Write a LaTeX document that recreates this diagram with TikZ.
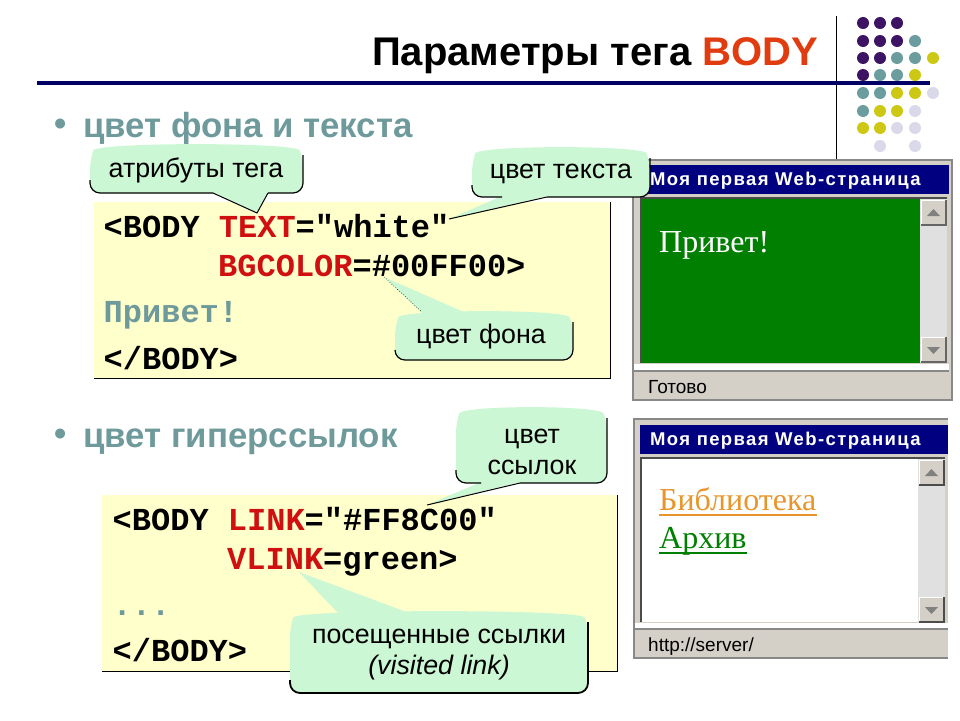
\documentclass[tikz,border=0pt]{standalone}
\usepackage{fontspec}
\setmainfont{Liberation Sans}
\newfontfamily\codefont{Liberation Mono}
\newfontfamily\pagefont{Liberation Serif}
\newfontfamily\barfont[LetterSpace=7.5]{Liberation Sans}
\definecolor{navyline}{HTML}{000066}
\definecolor{titlered}{HTML}{E03C10}
\definecolor{tealtext}{HTML}{6F9A9C}
\definecolor{codered}{HTML}{D01010}
\definecolor{notefill}{HTML}{FFFFCC}
\definecolor{tipfill}{HTML}{CCF7D4}
\definecolor{winface}{HTML}{D4D0C8}
\definecolor{winnavy}{HTML}{000080}
\definecolor{winedge}{HTML}{888888}
\definecolor{pagegreen}{HTML}{007F00}
\definecolor{linkorange}{HTML}{E8962C}
\definecolor{dotpurple}{HTML}{3D1464}
\definecolor{dotteal}{HTML}{6B9C9E}
\definecolor{dotyellow}{HTML}{CCC814}
\definecolor{dotlilac}{HTML}{D9D9EA}
\tikzset{
  headtext/.style={anchor=base west,inner sep=0,font=\bfseries\fontsize{40}{40}\selectfont},
  itemtext/.style={anchor=base west,inner sep=0,text=tealtext,font=\bfseries\fontsize{34.8}{34.8}\selectfont},
  codetext/.style={anchor=base west,inner sep=0,font=\codefont\bfseries\fontsize{32}{32}\selectfont},
  tiptext/.style={inner sep=0,align=center,font=\fontsize{26.8}{31}\selectfont},
  bartext/.style={anchor=base west,inner sep=0,text=white,font=\barfont\bfseries\fontsize{18.5}{18.5}\selectfont},
  pagetext/.style={anchor=base west,inner sep=0,font=\pagefont\fontsize{32}{32}\selectfont},
  statustext/.style={anchor=base west,inner sep=0,font=\fontsize{19}{19}\selectfont},
  tipline/.style={black,line width=1.2pt,rounded corners=10pt},
  tipbody/.style={fill=tipfill,rounded corners=10pt},
  notebox/.style={fill=notefill},
  notebar/.style={black,line width=1pt},
  framebar/.style={winedge,line width=2pt},
  sunken/.style={line width=2pt,draw=black!70}
}
\begin{document}
\begin{tikzpicture}[x=1pt,y=-1pt]
    \useasboundingbox (0,0) rectangle (960,720);
    % dots in the corner
    \foreach \cx/\cy in {863/23,880/23,897/23,863/41,880/41,897/41,863/58,880/58,863/75}
        \fill[dotpurple] (\cx,\cy) circle (6);
    \foreach \cx/\cy in {915/41,897/58,915/58,880/75,897/75,863/93,880/93,863/111}
        \fill[dotteal] (\cx,\cy) circle (6);
    \foreach \cx/\cy in {933/58,915/75,897/93,915/93,880/111,897/111,863/128,880/128}
        \fill[dotyellow] (\cx,\cy) circle (6);
    \foreach \cx/\cy in {933/93,915/111,897/128,915/128,880/146,915/146}
        \fill[dotlilac] (\cx,\cy) circle (6);
    \draw[black,line width=1pt] (836,16) -- (836,160);
    \draw[navyline,line width=3.5pt] (37,83) -- (930,83);
    % heading and items
    \node[headtext] (head) at (372,65) {Параметры тега \textcolor{titlered}{BODY}};
    \node[itemtext] (dotone) at (54,135) {•};
    \node[itemtext] (itemone) at (83,137) {цвет фона и текста};
    \node[itemtext] (dottwo) at (54,445) {•};
    \node[itemtext] (itemtwo) at (83,447) {цвет гиперссылок};
    % first window
    \fill[winface] (632,160) rectangle (952,400);
    \fill[winnavy] (640,165) rectangle (949,194);
    \fill[pagegreen] (641,198) rectangle (920,363);
    \fill[black!12] (920,198) rectangle (947,363);
    \draw[sunken] (641,363) -- (641,198) -- (947,198);
    \fill[winface] (921,200) rectangle (946,225);
    \fill[winface] (921,337) rectangle (946,362);
    \draw[white,line width=1pt] (921,225) -- (921,200) -- (946,200);
    \draw[white,line width=1pt] (921,362) -- (921,337) -- (946,337);
    \draw[black!60,line width=1.5pt] (921,225) -- (946,225) -- (946,200);
    \draw[black!60,line width=1.5pt] (921,362) -- (946,362) -- (946,337);
    \fill[black!50] (927,216) -- (940,216) -- (933.5,209) -- cycle;
    \fill[black!50] (927,347) -- (940,347) -- (933.5,354) -- cycle;
    \fill[white] (634,364) rectangle (949,371);
    \draw[winedge,line width=1.5pt] (634,371) -- (949,371);
    \draw[framebar] (633,400) -- (633,160) -- (952,160) -- (952,400) -- cycle;
    \node[bartext] (barone) at (650,185) {Моя первая Web-страница};
    \node[pagetext,text=white] (pageone) at (659,252) {Привет!};
    \node[statustext] (statusone) at (648,393) {Готово};
    % second window
    \fill[winface] (633,419) rectangle (948,658);
    \fill[winnavy] (640,425) rectangle (948,454);
    \fill[white] (641,458) rectangle (918,622);
    \fill[black!12] (918,458) rectangle (945,622);
    \draw[sunken] (641,622) -- (641,458) -- (945,458);
    \fill[winface] (919,460) rectangle (944,485);
    \fill[winface] (919,597) rectangle (944,622);
    \draw[white,line width=1pt] (919,485) -- (919,460) -- (944,460);
    \draw[white,line width=1pt] (919,622) -- (919,597) -- (944,597);
    \draw[black!70,line width=1.5pt] (919,485) -- (944,485) -- (944,460);
    \draw[black!70,line width=1.5pt] (919,622) -- (944,622) -- (944,597);
    \fill[black!50] (925,476) -- (938,476) -- (931.5,469) -- cycle;
    \fill[black!50] (925,607) -- (938,607) -- (931.5,614) -- cycle;
    \fill[white] (634,623) rectangle (948,629);
    \draw[winedge,line width=1.5pt] (634,629) -- (948,629);
    \draw[framebar] (948,419) -- (634,419) -- (634,658) -- (948,658);
    \node[bartext] (bartwo) at (650,445) {Моя первая Web-страница};
    \node[pagetext,text=linkorange] (linkone) at (659,510) {Библиотека};
    \draw[linkorange,line width=2pt] ([yshift=-5]linkone.base west) -- ([yshift=-5]linkone.base east);
    \node[pagetext,text=pagegreen] (linktwo) at (659,548) {Архив};
    \draw[pagegreen,line width=1.5pt] ([yshift=-5]linktwo.base west) -- ([yshift=-5]linktwo.base east);
    \node[statustext] (statustwo) at (648,651) {http://server/};
    % code boxes
    \fill[notebox] (94,202) rectangle (610,378);
    \draw[notebar] (94,378) -- (610,378) -- (610,202);
    \node[codetext] (bodyone) at (103.5,237.5) {<BODY \textcolor{codered}{TEXT}="white"};
    \node[codetext] (bgline) at (218,276.5) {\textcolor{codered}{BGCOLOR}=\#00FF00>};
    \node[codetext,text=tealtext] (hello) at (103.5,322.5) {Привет!};
    \node[codetext] (endone) at (103.5,369.5) {</BODY>};
    \fill[notebox] (102,495) rectangle (617,671);
    \draw[notebar] (102,671) -- (617,671) -- (617,495);
    \node[codetext] (bodytwo) at (112.5,530.5) {<BODY \textcolor{codered}{LINK}="\#FF8C00"};
    \node[codetext] (vlline) at (227,569.5) {\textcolor{codered}{VLINK}=green>};
    \node[codetext,text=tealtext] (dots) at (112.5,615.5) {...};
    \node[codetext] (endtwo) at (112.5,661.5) {</BODY>};
    % callouts
    \fill[tipbody] (90,160) .. controls (96,142) and (297,142) .. (303,160) -- (303,193) -- (90,193) -- cycle;
    \fill[tipfill] (213,192) -- (257,213) -- (268,192) -- cycle;
    \draw[tipline] (303,155) -- (303,193) -- (268,193);
    \draw[black,line width=1pt] (268,193) -- (257,213) -- (213,193);
    \draw[tipline] (213,193) -- (90,193) -- (90,180);
    \node[tiptext] (attrs) at (196,170) {атрибуты тега};
    \fill[tipbody] (472,163) .. controls (478,145) and (644,145) .. (650,163) -- (650,197) -- (472,197) -- cycle;
    \fill[tipfill] (502,196) -- (449,219) -- (547,196) -- cycle;
    \draw[tipline] (650,158) -- (650,197) -- (547,197);
    \draw[black,line width=1pt] (547,197) -- (449,219);
    \draw[tipline] (502,197) -- (472,197) -- (472,185);
    \node[tiptext] (textcol) at (561,174) {цвет текста};
    \fill[tipbody] (395,327) .. controls (401,309) and (567,309) .. (573,327) -- (573,360) -- (395,360) -- cycle;
    \fill[tipfill] (422,313) -- (384,277) -- (466,313) -- cycle;
    \draw[tipline] (573,322) -- (573,360) -- (395,360) -- (395,350);
    \draw[black,line width=.6pt,dotted] (384,277) -- (422,312);
    \node[tiptext] (bgcol) at (481,337) {цвет фона};
    \fill[tipbody] (456,423) .. controls (462,405) and (601,405) .. (607,423) -- (607,483) -- (456,483) -- cycle;
    \fill[tipfill] (481,482) -- (427,505) -- (520,482) -- cycle;
    \draw[tipline] (607,418) -- (607,483) -- (520,483);
    \draw[black,line width=1pt] (520,483) -- (427,505);
    \draw[tipline] (481,483) -- (456,483) -- (456,470);
    \node[tiptext] (linkcol) at (532,452) {цвет\\ссылок};
    \fill[tipbody] (290,627) .. controls (296,609) and (582,609) .. (588,627) -- (588,693) -- (290,693) -- cycle;
    \fill[tipfill] (338,613) -- (299,572) -- (409,613) -- cycle;
    \draw[tipline,line width=1.8pt] (588,622) -- (588,693) -- (290,693) -- (290,680);
    \node[tiptext] (visited) at (439,655) {посещенные ссылки\\\textit{(visited link)}};
\end{tikzpicture}
\end{document}
